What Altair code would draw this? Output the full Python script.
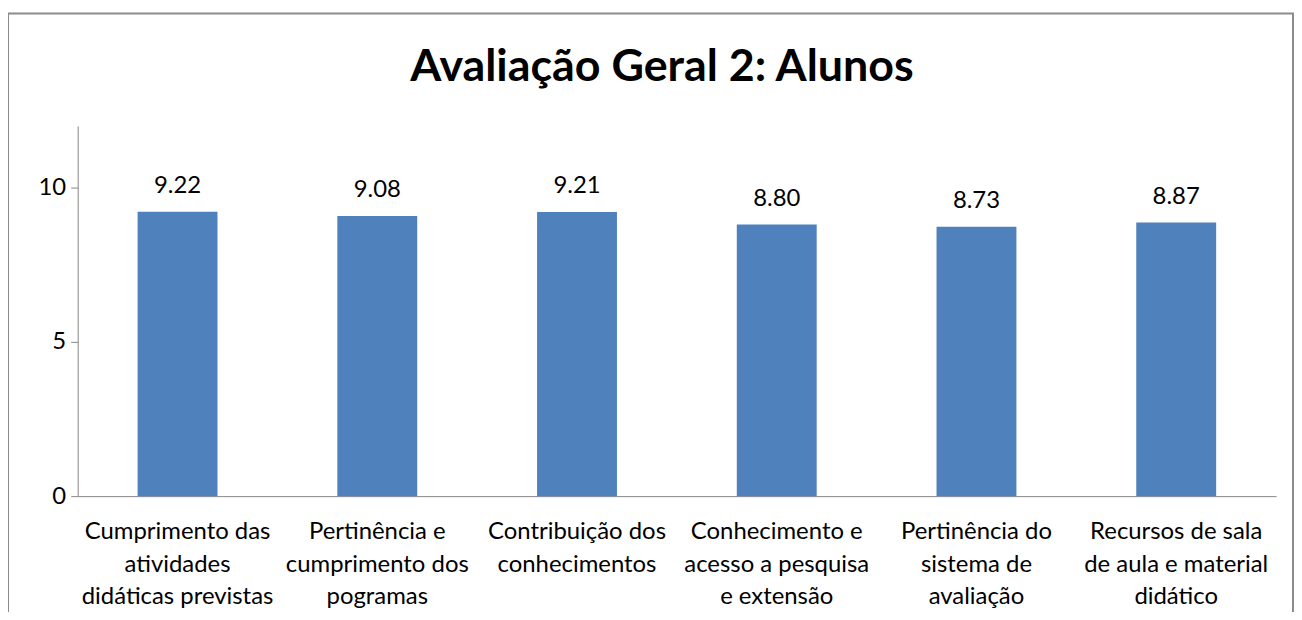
import altair as alt
import pandas as pd

categories = [
    "Cumprimento das|atividades|didáticas previstas",
    "Pertinência e|cumprimento  dos|pogramas",
    "Contribuição dos|conhecimentos",
    "Conhecimento e|acesso a pesquisa|e extensão",
    "Pertinência do|sistema de|avaliação",
    "Recursos de sala|de aula e material|didático",
]
values = [9.22, 9.08, 9.21, 8.80, 8.73, 8.87]

df = pd.DataFrame({"cat": categories, "val": values})

FONT = "Lato"
W, H = 1204, 372

x = alt.X("cat:N", sort=categories, title=None,
          scale=alt.Scale(paddingInner=0.6, paddingOuter=0.3),
          axis=alt.Axis(labelAngle=0, labelExpr="split(datum.label, '|')",
                        ticks=False, tickSize=0, labelPadding=24,
                        labelLineHeight=32.5, labelFontSize=24, labelFont=FONT,
                        labelColor="#000000", domainColor="#868686",
                        domainWidth=1, labelLimit=0))
y = alt.Y("val:Q", title=None,
          scale=alt.Scale(domain=[0, 12], nice=False),
          axis=alt.Axis(values=[0, 5, 10], grid=False, tickSize=7,
                        tickColor="#868686", domainColor="#868686",
                        labelPadding=5, labelFontSize=24, labelFont=FONT,
                        labelColor="#000000"))

bars = alt.Chart(df).mark_bar(color="#4F81BD").encode(x=x, y=y)
labels = alt.Chart(df).mark_text(
    font=FONT, fontSize=24, color="#000000", dy=-19, baseline="alphabetic"
).encode(x=alt.X("cat:N", sort=categories), y="val:Q",
         text=alt.Text("val:Q", format=".2f"))

frame = alt.Chart(pd.DataFrame({"a": [0]})).mark_rect(
    fill=None, stroke="#8c8c8c", strokeWidth=2
).encode(x=alt.value(-70), x2=alt.value(1221),
         y=alt.value(-113), y2=alt.value(530))

chart = alt.layer(frame, bars, labels).properties(
    width=W, height=H,
    background="white",
    title=alt.TitleParams("Avaliação Geral 2: Alunos", font=FONT, fontSize=45,
                          fontWeight="bold", color="#000000",
                          anchor="middle", dx=-15, offset=-114,
                          baseline="alphabetic"),
    padding={"left": 70, "top": 117, "right": 18, "bottom": 115},
    autosize=alt.AutoSizeParams(type="none"),
).configure_view(strokeWidth=0, stroke="transparent")

chart.save("out.html", embed_options={"renderer": "svg", "actions": False})
